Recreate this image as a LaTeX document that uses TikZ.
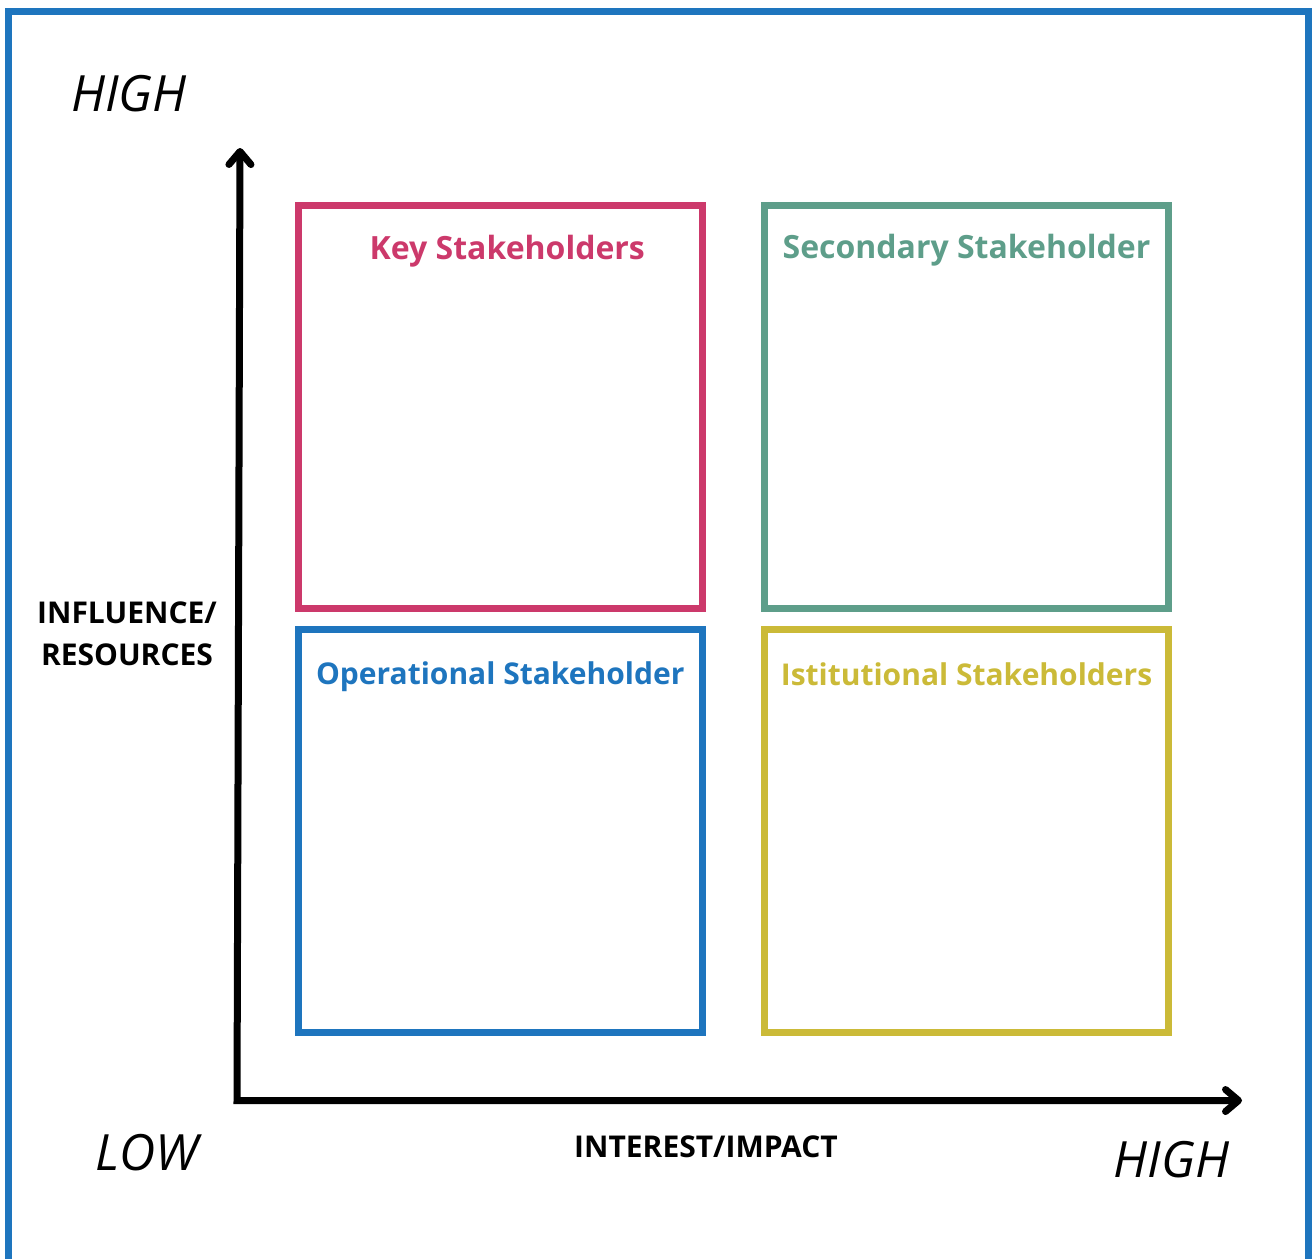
\documentclass[tikz,border=0pt]{standalone}
\usepackage{fontspec}
\setmainfont{Open Sans}
\usepackage{xcolor}
\usetikzlibrary{arrows.meta, positioning, calc}

\definecolor{keypink}{RGB}{204,57,107}
\definecolor{secgreen}{RGB}{94,158,138}
\definecolor{opblue}{RGB}{30,117,190}
\definecolor{instyellow}{RGB}{203,186,56}

\begin{document}
\begin{tikzpicture}[
    x=1pt, y=-1pt,
    quad/.style={rectangle, draw=#1, line width=7pt, minimum width=403.5pt, minimum height=403pt, inner sep=0pt},
    title/.style 2 args={text=#1, font=\fontsize{#2}{#2}\selectfont\bfseries, anchor=base, inner sep=0pt},
    level/.style={font=\fontsize{50}{60}\selectfont\itshape, inner sep=0pt},
    axislabel/.style={font=\fontsize{30}{42}\selectfont\bfseries, align=center, inner sep=0pt},
    axis/.style={line width=7pt, line join=miter, {Straight Barb[length=13pt, width=22pt, round]}-{Straight Barb[length=13pt, width=22pt, round]}}
]

\useasboundingbox (0,0) rectangle (1313,1258);

% Frame
\draw[opblue, line width=7pt] (8.5,1262) -- (8.5,11.5) -- (1308.5,11.5) -- (1308.5,1262);

% Quadrants
\node[quad=keypink] (key) at (500.25,406.5) {};
\node[quad=secgreen] (sec) at (966.5,406.5) {};
\node[quad=opblue] (op) at (500.25,830.5) {};
\node[quad=instyellow] (inst) at (966.5,830.5) {};

\node[title={keypink}{32}] (key-t) at ([xshift=7pt, yshift=-58pt]key.north) {Key Stakeholders};
\node[title={secgreen}{32}] (sec-t) at ([yshift=-57pt]sec.north) {Secondary Stakeholder};
\node[title={opblue}{30}] (op-t) at ([yshift=-59pt]op.north) {Operational Stakeholder};
\node[title={instyellow}{30}] (inst-t) at ([yshift=-60pt]inst.north) {Istitutional Stakeholders};

% Axes
\coordinate (origin) at (237,1100.5);
\coordinate (ytip) at (240,148);
\coordinate (xtip) at (1242,1100.5);
\draw[axis] (ytip) -- (origin) -- (xtip);

% Labels
\node[level] (y-high) at (129,93.5) {HIGH};
\node[level] (x-low) at (147,1152.5) {LOW};
\node[level] (x-high) at (1171.5,1160) {HIGH};
\node[axislabel] (y-label) at (127,634) {INFLUENCE/\\RESOURCES};
\node[axislabel] (x-label) at (706,1147) {INTEREST/IMPACT};

\end{tikzpicture}
\end{document}
